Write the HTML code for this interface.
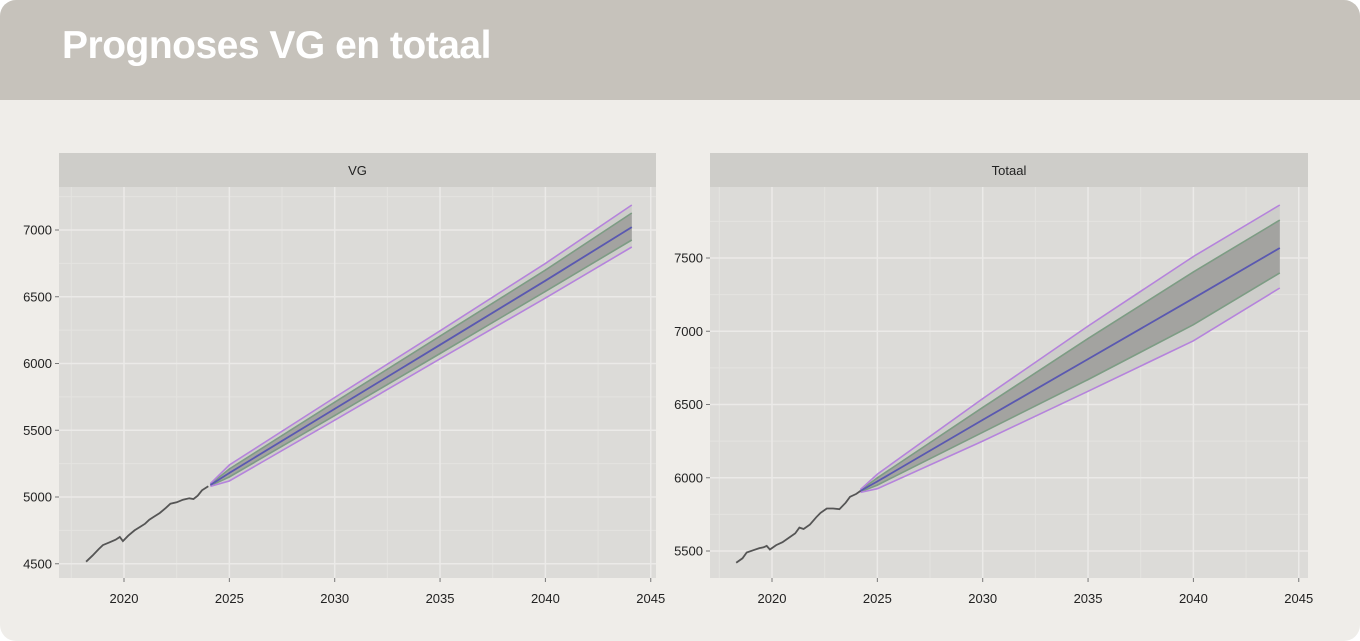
<!DOCTYPE html>
<html><head><meta charset="utf-8"><style>
html,body{margin:0;padding:0;background:#fff;}
#wrap{position:relative;width:1360px;height:641px;background:#efede9;border-radius:16px;overflow:hidden;font-family:"Liberation Sans",sans-serif;}
#hdr{position:absolute;left:0;top:0;width:1360px;height:100px;background:#c6c2bb;}
#title{position:absolute;left:62px;top:24px;color:#fff;font-weight:bold;font-size:39px;letter-spacing:-0.5px;}
svg{position:absolute;left:0;top:0;}
</style></head><body>
<div id="wrap">
<div id="hdr"><div id="title">Prognoses VG en totaal</div></div>
<svg id="svg" width="1360" height="641"></svg>
</div>
<script>
const xTicks=[2020,2025,2030,2035,2040,2045];
const vgYTicks=[4500,5000,5500,6000,6500,7000];
const totYTicks=[5500,6000,6500,7000,7500];
const vgHistYears=[2018.2,2018.5,2018.8,2019.0,2019.3,2019.6,2019.8,2019.95,2020.2,2020.5,2020.8,2021.0,2021.2,2021.4,2021.7,2022.0,2022.2,2022.5,2022.8,2023.1,2023.3,2023.5,2023.7,2024.0];
const vgHist=[4515,4560,4610,4640,4660,4680,4700,4670,4710,4750,4780,4800,4830,4850,4880,4920,4950,4960,4980,4990,4985,5010,5050,5080];
const totHistYears=[2018.3,2018.6,2018.8,2019.1,2019.4,2019.6,2019.75,2019.9,2020.2,2020.5,2020.8,2021.1,2021.3,2021.5,2021.8,2022.1,2022.3,2022.6,2022.9,2023.2,2023.5,2023.7,2024.0,2024.2];
const totHist=[5420,5450,5490,5505,5520,5525,5535,5510,5540,5560,5590,5620,5660,5650,5680,5730,5760,5790,5790,5785,5830,5870,5890,5910];
const vgFcYears=[2024.1,2025,2030,2035,2040,2044.1];
const vgMean=[5090,5180,5660,6140,6620,7022];
const vgLo80=[5085,5150,5610,6075,6540,6925];
const vgHi80=[5095,5210,5710,6205,6700,7127];
const vgLo95=[5080,5120,5575,6035,6490,6873];
const vgHi95=[5100,5240,5745,6245,6750,7187];
const totFcYears=[2024.2,2025,2030,2035,2040,2044.1];
const totMean=[5910,5975,6395,6810,7225,7568];
const totLo80=[5905,5950,6310,6670,7045,7398];
const totHi80=[5915,6000,6480,6950,7405,7759];
const totLo95=[5900,5925,6250,6590,6935,7295];
const totHi95=[5920,6025,6540,7035,7510,7862];

const NS='http://www.w3.org/2000/svg';
const svg=document.getElementById('svg');
function mk(tag,attrs,parent){const e=document.createElementNS(NS,tag);for(const k in attrs)e.setAttribute(k,attrs[k]);(parent||svg).appendChild(e);return e;}

function panel(opt){
  const g=mk('g',{});
  
  
  const X=v=>opt.x2020+(v-2020)*opt.pxYr;
  const Y=v=>opt.yRef-(v-opt.vRef)*opt.pxVal;
  const bg=mk('rect',{x:opt.L,y:187,width:opt.R-opt.L,height:391,fill:'#dcdbd8'},g);
  
  
  // minor grid
  for(let i=0;i<xTicks.length;i++){const m=xTicks[i]-2.5;const px=X(m);if(px>opt.L&&px<opt.R)mk('line',{x1:px,x2:px,y1:187,y2:578,stroke:'#e4e3e0','stroke-width':1},g);}
  {const px=X(2045+2.5);}
  opt.yt.forEach(v=>{const py=Y(v+250);if(py>187&&py<578)mk('line',{x1:opt.L,x2:opt.R,y1:py,y2:py,stroke:'#e4e3e0','stroke-width':1},g);});
  {const py=Y(opt.yt[0]-250);if(py>187&&py<578)mk('line',{x1:opt.L,x2:opt.R,y1:py,y2:py,stroke:'#e4e3e0','stroke-width':1},g);}
  // major grid + ticks
  xTicks.forEach(v=>{const px=X(v);
    if(px<opt.R)mk('line',{x1:px,x2:px,y1:187,y2:578,stroke:'#ebeae8','stroke-width':1.5},g);
    mk('line',{x1:px,x2:px,y1:578,y2:582,stroke:'#777','stroke-width':1},g);
    const t=mk('text',{x:px,y:603,'text-anchor':'middle','font-size':13,fill:'#222'},g);t.textContent=v;
    
    });
  opt.yt.forEach(v=>{const py=Y(v);
    mk('line',{x1:opt.L,x2:opt.R,y1:py,y2:py,stroke:'#ebeae8','stroke-width':1.5},g);
    mk('line',{x1:opt.L-4,x2:opt.L,y1:py,y2:py,stroke:'#777','stroke-width':1},g);
    const t=mk('text',{x:opt.L-7,y:py+4.5,'text-anchor':'end','font-size':13,fill:'#222'},g);t.textContent=v;
    
    });
  // strip
  const st=mk('rect',{x:opt.L,y:153,width:opt.R-opt.L,height:34,fill:'#cecdc9'},g);
  
  
  const sl=mk('text',{x:(opt.L+opt.R)/2,y:175,'text-anchor':'middle','font-size':13,fill:'#222'},g);sl.textContent=opt.label;
  
  
  const line=(xs,ys)=>xs.map((x,i)=>(i?'L':'M')+X(x).toFixed(1)+','+Y(ys[i]).toFixed(1)).join('');
  const area=(xs,lo,hi)=>line(xs,hi)+xs.slice().reverse().map((x,i)=>'L'+X(x).toFixed(1)+','+Y(lo[xs.length-1-i]).toFixed(1)).join('')+'Z';
  const b95=mk('path',{d:area(opt.fy,opt.lo95,opt.hi95),fill:'#cdcdca'},g);
  
  
  const b80=mk('path',{d:area(opt.fy,opt.lo80,opt.hi80),fill:'#a3a3a0'},g);
  
  
  [[opt.lo80,'#7d9c84'],[opt.hi80,'#7d9c84'],[opt.lo95,'#b583dc'],[opt.hi95,'#b583dc']].forEach(([a,c])=>{
    const p=mk('path',{d:line(opt.fy,a),fill:'none',stroke:c,'stroke-width':1.6},g);
    
    });
  const m=mk('path',{d:line(opt.fy,opt.mean),fill:'none',stroke:'#5a58b0','stroke-width':1.8},g);
  
  
  const h=mk('path',{d:line(opt.hy,opt.hv),fill:'none',stroke:'#555','stroke-width':1.8},g);
  
  
}
panel({name:'vg',label:'VG',L:59,R:656,x2020:124,pxYr:21.07,yRef:230,vRef:7000,pxVal:0.1335,yt:vgYTicks,
  hy:vgHistYears,hv:vgHist,fy:vgFcYears,mean:vgMean,lo80:vgLo80,hi80:vgHi80,lo95:vgLo95,hi95:vgHi95});
panel({name:'totaal',label:'Totaal',L:710,R:1308,x2020:772,pxYr:21.07,yRef:258,vRef:7500,pxVal:0.1465,yt:totYTicks,
  hy:totHistYears,hv:totHist,fy:totFcYears,mean:totMean,lo80:totLo80,hi80:totHi80,lo95:totLo95,hi95:totHi95});
</script>
</body></html>
